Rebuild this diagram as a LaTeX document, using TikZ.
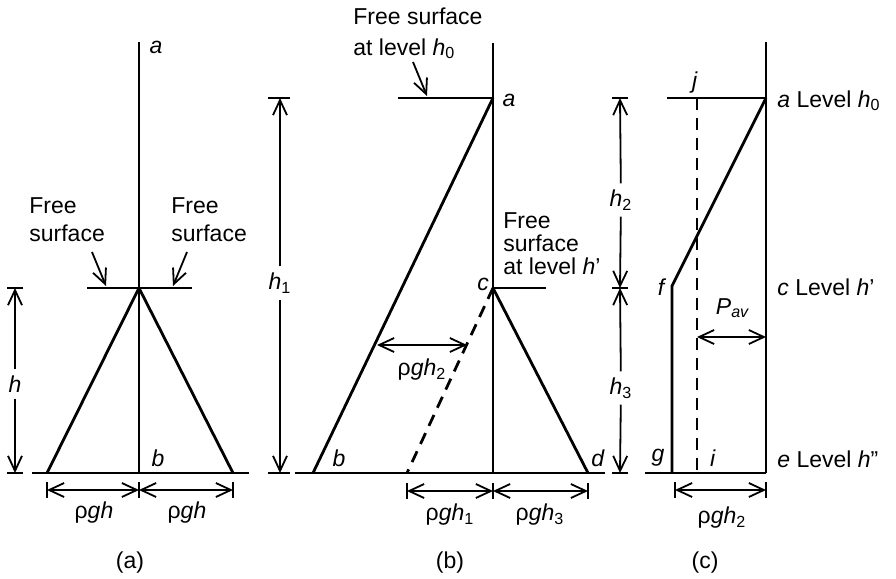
\documentclass[tikz,border=0pt]{standalone}
\usepackage{fontspec}
\setmainfont{Liberation Sans}
\usetikzlibrary{arrows.meta}

\begin{document}
\begin{tikzpicture}[x=0.5pt, y=-0.5pt, >={Straight Barb[length=7.5pt,width=7pt]},
    wall/.style={line width=1.4pt},
    dim/.style={line width=0.9pt},
    lbl/.style={inner sep=0pt, font=\fontsize{11.5}{14}\selectfont},
    dimlbl/.style={lbl, inner sep=3pt},
    freetxt/.style={lbl, align=left, anchor=north west}]
    \useasboundingbox (0,0) rectangle (896,579);

    % (a) one liquid, free surface at mid height
    \coordinate (aTop) at (139,42);
    \coordinate (aApex) at (139,288);
    \coordinate (aFoot) at (139,473);
    \coordinate (aB1) at (47,473);
    \coordinate (aB2) at (233,473);
    \draw[wall] (aTop) -- (aFoot);
    \draw[wall] (87,288) -- (192,288);
    \draw[wall] (32,473) -- (249,473);
    \draw[wall] (aB1) -- (aApex) -- (aB2);
    \node[lbl] (aLa) at (156,47) {\textit{a}};
    \node[lbl] (aLb) at (158,458) {\textit{b}};
    \node[freetxt] (aFree1) at (29,197) {Free\\surface};
    \node[freetxt] (aFree2) at (171,197) {Free\\surface};
    \draw[dim,->] (92,252) -- (106,286);
    \draw[dim,->] (187,252) -- (173,286);
    \draw[dim] (7,288) -- (23,288) (7,473) -- (23,473);
    \node[dimlbl] (aH) at (15,384) {\textit{h}};
    \draw[dim,->] (aH) -- (15,288);
    \draw[dim,->] (aH) -- (15,473);
    \foreach \x in {47,139,233} \draw[dim] (\x,482) -- (\x,498);
    \draw[dim,<->] (47,490) -- (139,490);
    \draw[dim,<->] (139,490) -- (233,490);
    \node[lbl] (aP1) at (94,513) {ρ\textit{gh}};
    \node[lbl] (aP2) at (187,513) {ρ\textit{gh}};
    \node[lbl] (aCap) at (130,563) {(a)};

    % (b) two free surfaces
    \coordinate (bTop) at (493,43);
    \coordinate (bA) at (493,98);
    \coordinate (bC) at (493,288);
    \coordinate (bFoot) at (493,473);
    \coordinate (bB) at (313,473);
    \coordinate (bD) at (588,473);
    \coordinate (bE) at (407,473);
    \draw[wall] (bTop) -- (bFoot);
    \draw[wall] (398,98) -- (bA);
    \draw[wall] (bC) -- (546,288);
    \draw[wall] (295,473) -- (605,473);
    \draw[wall] (bA) -- (bB);
    \draw[wall] (bC) -- (bD);
    \draw[wall, dash pattern=on 6pt off 4pt] (bC) -- (bE);
    \node[lbl] (bLa) at (509,100) {\textit{a}};
    \node[lbl] (bLc) at (483,284) {\textit{c}};
    \node[lbl] (bLb) at (339,458) {\textit{b}};
    \node[lbl] (bLd) at (598,458) {\textit{d}};
    \node[freetxt, font=\fontsize{11.5}{15.5}\selectfont] (bFree1) at (353,7)
        {Free surface\\at level \textit{h}\textsubscript{0}};
    \draw[dim,->] (413,62) -- (427,96);
    \node[freetxt, font=\fontsize{11.5}{11.5}\selectfont] (bFree2) at (503,212)
        {Free\\surface\\at level \textit{h}’};
    \draw[dim] (268,98) -- (290,98) (268,473) -- (290,473);
    \node[dimlbl] (bH1) at (280,283) {\textit{h}\textsubscript{1}};
    \draw[dim,->] (bH1) -- (280,98);
    \draw[dim,->] (bH1) -- (280,473);
    \draw[dim,<->] (377,345) -- (467,345);
    \node[lbl] (bP2) at (422,370) {ρ\textit{gh}\textsubscript{2}};
    \foreach \x in {407,493,588} \draw[dim] (\x,483) -- (\x,499);
    \draw[dim,<->] (407,491) -- (493,491);
    \draw[dim,<->] (493,491) -- (588,491);
    \node[lbl] (bP1) at (450,515) {ρ\textit{gh}\textsubscript{1}};
    \node[lbl] (bP3) at (540,515) {ρ\textit{gh}\textsubscript{3}};
    \node[lbl] (bCap) at (450,563) {(b)};

    % (c) average pressure
    \coordinate (cTop) at (766,42);
    \coordinate (cA) at (766,98);
    \coordinate (cE) at (766,473);
    \coordinate (cF) at (672,286);
    \coordinate (cG) at (672,473);
    \coordinate (cJ) at (697,98);
    \coordinate (cI) at (697,473);
    \draw[wall] (cTop) -- (cE);
    \draw[wall] (667,98) -- (cA);
    \draw[wall] (645,473) -- (cE);
    \draw[wall] (cA) -- (cF) -- (cG);
    \draw[wall, dash pattern=on 6pt off 4pt] (cJ) -- (cI);
    \node[lbl] (cLj) at (695,83) {\textit{j}};
    \node[lbl] (cLf) at (662,287) {\textit{f}};
    \node[lbl] (cLg) at (658,458) {\textit{g}};
    \node[lbl] (cLi) at (713,458) {\textit{i}};
    \draw[dim] (612,98) -- (628,98) (612,288) -- (628,288) (612,473) -- (628,473);
    \node[dimlbl] (cH2) at (621,200) {\textit{h}\textsubscript{2}};
    \node[dimlbl] (cH3) at (621,388) {\textit{h}\textsubscript{3}};
    \draw[dim,->] (cH2) -- (620,98);
    \draw[dim,->] (cH2) -- (620,288);
    \draw[dim,->] (cH3) -- (620,288);
    \draw[dim,->] (cH3) -- (620,473);
    \draw[dim,<->] (697,337) -- (766,337);
    \node[lbl] (cPav) at (733,308) {\textit{P}\textsubscript{\textit{av}}};
    \foreach \x in {675,766} \draw[dim] (\x,482) -- (\x,498);
    \draw[dim,<->] (675,490) -- (766,490);
    \node[lbl] (cP2) at (722,518) {ρ\textit{gh}\textsubscript{2}};
    \node[lbl, anchor=base west] (cLvA) at (777,107) {\textit{a} Level \textit{h}\textsubscript{0}};
    \node[lbl, anchor=base west] (cLvC) at (777,295) {\textit{c} Level \textit{h}’};
    \node[lbl, anchor=base west] (cLvE) at (777,467) {\textit{e} Level \textit{h}”};
    \node[lbl] (cCap) at (705,563) {(c)};
\end{tikzpicture}
\end{document}
